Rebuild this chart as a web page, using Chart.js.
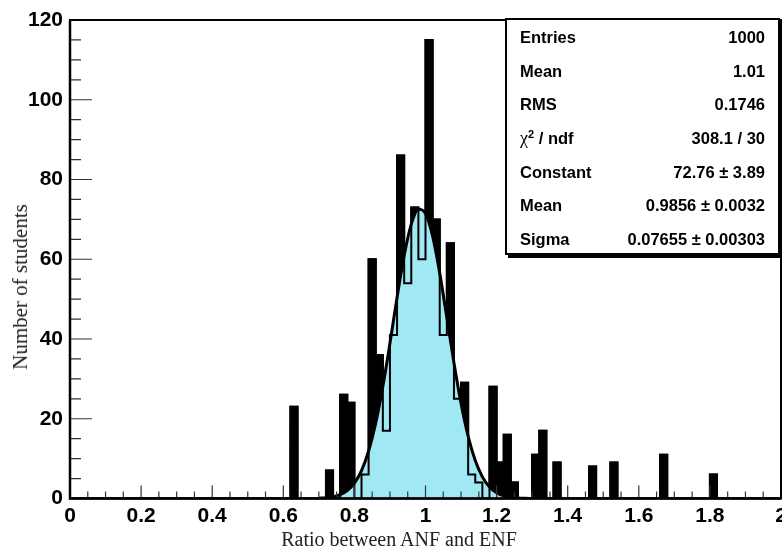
<!DOCTYPE html>
<html>
<head>
<meta charset="utf-8">
<script src="https://cdn.jsdelivr.net/npm/chart.js@4.4.1/dist/chart.umd.min.js"></script>
<style>
  body { margin: 0; background: #fff; }
  #quadro { position: relative; width: 782px; height: 547px; overflow: hidden; }
  #grafico { position: absolute; left: 0; top: 0; }
  .tituloEixo { position: absolute; font-family: "Liberation Serif", "Times New Roman", serif; font-size: 20px; line-height: 20px; color: #222; white-space: nowrap; }
  #tituloX { left: 399px; top: 529px; transform: translateX(-50%); }
  #tituloY { left: 20px; top: 287px; font-size: 21px; transform: translate(-50%, -50%) rotate(-90deg); }
  #caixa { position: absolute; left: 505px; top: 18px; width: 275px; height: 237px; box-sizing: border-box;
           border: 2px solid #000; background: #fff; box-shadow: 3px 3px 0 #000; padding-top: 1px;
           font-family: "Liberation Sans", Arial, sans-serif; font-weight: bold; font-size: 16.5px; color: #000; }
  .linha { display: flex; justify-content: space-between; height: 33.7px; line-height: 33.7px; padding: 0 13px 0 13px; }
  .chi { font-family: "Liberation Serif", serif; font-weight: normal; font-size: 18px; }
  sup { font-size: 11px; line-height: 0; }
</style>
</head>
<body>
<div id="quadro">
  <canvas id="grafico" width="782" height="547"></canvas>
  <div class="tituloEixo" id="tituloX">Ratio between ANF and ENF</div>
  <div class="tituloEixo" id="tituloY">Number of students</div>
  <div id="caixa"></div>
</div>
<script>
// histograma: 100 bins de 0.02 entre 0 e 2
const larguraBin = 0.02;
const contagens = [
  0, 0, 0, 0, 0, 0, 0, 0, 0, 0,
  0, 0, 0, 0, 0, 0, 0, 0, 0, 0,
  0, 0, 0, 0, 0, 0, 0, 0, 0, 0,
  0, 23, 0, 0, 0, 0, 7, 0, 26, 24,
  0, 6, 60, 36, 17, 41, 86, 54, 73, 60,
  115, 70, 41, 64, 25, 29, 6, 4, 0, 28,
  9, 16, 4, 0, 0, 11, 17, 0, 9, 0,
  0, 0, 0, 8, 0, 0, 9, 0, 0, 0,
  0, 0, 0, 11, 0, 0, 0, 0, 0, 0,
  6, 0, 0, 0, 0, 0, 0, 0, 0, 0
];

// curva do ajuste gaussiano
const ajusteX = [0.70, 0.72, 0.74, 0.76, 0.78, 0.80, 0.82, 0.84, 0.86, 0.88, 0.90,
  0.92, 0.94, 0.96, 0.98, 1.00, 1.02, 1.04, 1.06, 1.08, 1.10,
  1.12, 1.14, 1.16, 1.18, 1.20, 1.22, 1.24, 1.26, 1.28, 1.30];
const ajusteY = [0.07, 0.18, 0.42, 0.95, 1.97, 3.85, 7.01, 11.92, 18.94, 28.10, 38.94,
  50.40, 60.93, 68.80, 72.57, 71.49, 65.77, 56.52, 45.37, 34.02, 23.82,
  15.58, 9.52, 5.43, 2.89, 1.44, 0.67, 0.29, 0.12, 0.05, 0.02];

const ticksX = [0, 0.2, 0.4, 0.6, 0.8, 1, 1.2, 1.4, 1.6, 1.8, 2];
const ticksY = [0, 20, 40, 60, 80, 100, 120];

const rotulosCaixa = ["Entries", "Mean", "RMS", '<span class="chi">&chi;</span><sup>2</sup> / ndf', "Constant", "Mean", "Sigma"];
const valoresCaixa = ["1000", "1.01", "0.1746", "308.1 / 30", "72.76 &plusmn; 3.89", "0.9856 &plusmn; 0.0032", "0.07655 &plusmn; 0.00303"];

// caixa de estatisticas
const caixa = document.getElementById("caixa");
rotulosCaixa.forEach((r, i) => {
  const linha = document.createElement("div");
  linha.className = "linha";
  linha.innerHTML = `<span>${r}</span><span>${valoresCaixa[i]}</span>`;
  caixa.appendChild(linha);
});

// pontos do histograma em degraus (borda esquerda de cada bin + borda final)
const pontosHist = contagens.map((c, i) => ({ x: +(i * larguraBin).toFixed(2), y: c }));
pontosHist.push({ x: contagens.length * larguraBin, y: contagens[contagens.length - 1] });
const pontosAjuste = ajusteX.map((x, i) => ({ x: x, y: ajusteY[i] }));

const fonteTicks = { family: "'Liberation Sans', Arial, sans-serif", size: 21, weight: "bold" };

const moldura = {
  id: "moldura",
  afterDatasetsDraw(chart) {
    const { ctx, chartArea: a, scales: { x, y } } = chart;
    ctx.save();
    ctx.strokeStyle = "#333";
    ctx.lineWidth = 1.2;
    ctx.beginPath();
    for (let i = 0; i <= 40; i++) {
      const px = x.getPixelForValue(i * 0.05);
      const len = i % 4 === 0 ? 13 : 7;
      ctx.moveTo(px, a.bottom);
      ctx.lineTo(px, a.bottom - len);
    }
    for (let i = 0; i <= 24; i++) {
      const py = y.getPixelForValue(i * 5);
      const len = i % 4 === 0 ? 22 : 11;
      ctx.moveTo(a.left, py);
      ctx.lineTo(a.left + len, py);
    }
    ctx.stroke();
    ctx.strokeStyle = "#000";
    ctx.lineWidth = 2;
    ctx.strokeRect(a.left, a.top, a.right - a.left, a.bottom - a.top);
    ctx.lineWidth = 2.5;
    ctx.beginPath();
    ctx.moveTo(a.left, a.top);
    ctx.lineTo(a.left, a.bottom);
    ctx.lineTo(a.right, a.bottom);
    ctx.stroke();
    ctx.restore();
  }
};

new Chart(document.getElementById("grafico"), {
  type: "line",
  data: {
    datasets: [
      {
        // barras pretas (ficam por baixo do ajuste)
        data: pontosHist,
        stepped: true,
        fill: "origin",
        backgroundColor: "#000",
        borderColor: "#000",
        borderWidth: 2,
        pointRadius: 0,
        order: 3
      },
      {
        // area ciano sob a gaussiana
        data: pontosAjuste,
        fill: "origin",
        backgroundColor: "#a0e8f3",
        borderColor: "#000",
        borderWidth: 3,
        cubicInterpolationMode: "monotone",
        pointRadius: 0,
        order: 2
      },
      {
        // contorno do histograma por cima
        data: pontosHist,
        stepped: true,
        fill: false,
        borderColor: "#000",
        borderWidth: 2,
        pointRadius: 0,
        order: 1
      }
    ]
  },
  options: {
    responsive: false,
    animation: false,
    layout: { padding: { top: 20, right: 1, left: 0, bottom: 0 } },
    plugins: { legend: { display: false }, tooltip: { enabled: false } },
    scales: {
      x: {
        type: "linear",
        min: 0,
        max: 2,
        grid: { display: false, drawTicks: false },
        border: { display: false },
        afterBuildTicks: (s) => { s.ticks = ticksX.map((v) => ({ value: v })); },
        ticks: {
          color: "#000",
          font: fonteTicks,
          padding: 5,
          maxRotation: 0,
          autoSkip: false,
          callback: (v) => String(v)
        },
        afterFit: (s) => { s.height = 48.5; s.paddingLeft = 0; s.paddingRight = 0; }
      },
      y: {
        min: 0,
        max: 120,
        grid: { display: false, drawTicks: false },
        border: { display: false },
        afterBuildTicks: (s) => { s.ticks = ticksY.map((v) => ({ value: v })); },
        ticks: { color: "#000", font: fonteTicks, padding: 7, autoSkip: false },
        afterFit: (s) => { s.width = 70; s.paddingTop = 0; s.paddingBottom = 0; }
      }
    }
  },
  plugins: [moldura]
});
</script>
</body>
</html>
